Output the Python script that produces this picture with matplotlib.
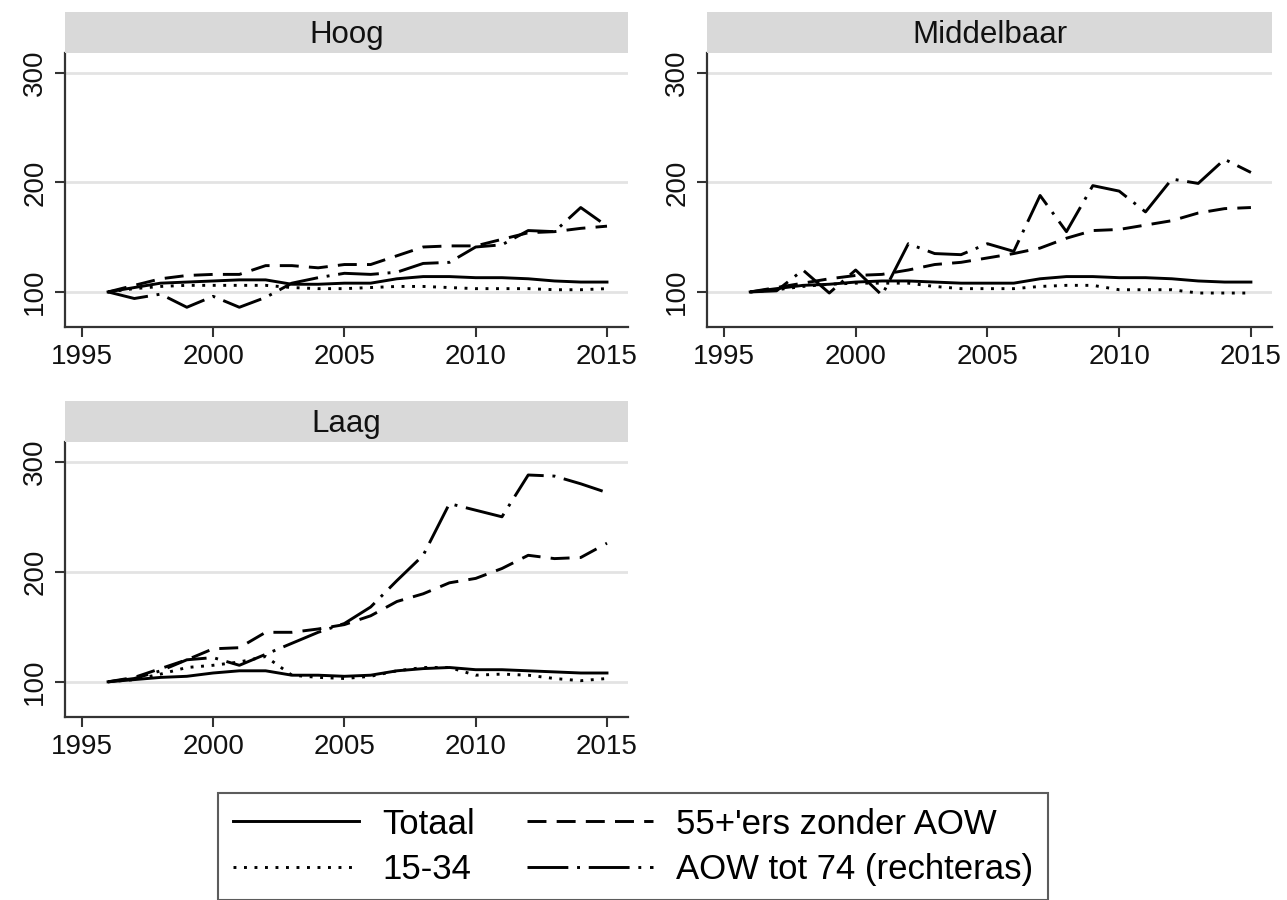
import matplotlib
matplotlib.use("Agg")
import matplotlib.pyplot as plt
from matplotlib.lines import Line2D

plt.rcParams['font.family'] = ['Liberation Sans', 'DejaVu Sans']

years = list(range(1996, 2016))

# Hoog
hoog_totaal = [100, 104, 108, 109, 110, 111, 111, 107, 107, 108, 108, 112, 114, 114, 113, 113, 112, 110, 109, 109]
hoog_1534 = [100, 103, 105, 106, 106, 106, 106, 104, 103, 103, 104, 105, 105, 104, 103, 103, 103, 102, 102, 103]
hoog_55 = [100, 106, 112, 115, 116, 116, 124, 124, 122, 125, 125, 133, 141, 142, 142, 148, 154, 155, 158, 160]
hoog_aow = [100, 94, 98, 86, 96, 86, 95, 108, 113, 117, 116, 118, 126, 127, 141, 143, 156, 155, 177, 160]

# Middelbaar
mid_totaal = [100, 103, 106, 107, 109, 110, 110, 109, 108, 108, 108, 112, 114, 114, 113, 113, 112, 110, 109, 109]
mid_1534 = [100, 102, 105, 107, 108, 108, 108, 105, 103, 103, 103, 105, 106, 106, 102, 102, 102, 99, 99, 99]
mid_55 = [100, 104, 108, 112, 115, 116, 120, 125, 127, 131, 135, 140, 149, 156, 157, 161, 165, 172, 176, 177]
mid_aow = [100, 101, 120, 99, 120, 97, 144, 135, 134, 144, 137, 188, 155, 197, 192, 173, 203, 199, 221, 209]

# Laag
laag_totaal = [100, 102, 104, 105, 108, 110, 110, 106, 106, 105, 106, 110, 112, 113, 111, 111, 110, 109, 108, 108]
laag_1534 = [100, 102, 107, 113, 115, 118, 123, 106, 104, 103, 105, 110, 113, 113, 106, 107, 106, 103, 101, 103]
laag_55 = [100, 104, 112, 120, 130, 131, 145, 145, 148, 152, 160, 173, 180, 190, 194, 203, 215, 212, 213, 226]
laag_aow = [100, 103, 110, 120, 122, 115, 125, 135, 145, 153, 168, 192, 215, 262, 256, 250, 288, 287, 280, 272]

series_labels = ["Totaal", "15-34", "55+'ers zonder AOW", "AOW tot 74 (rechteras)"]
styles = ['-', (0, (1, 2.6)), (0, (6.5, 3.5)), (0, (14, 3, 1, 3))]

panels = [
    ("Hoog", [hoog_totaal, hoog_1534, hoog_55, hoog_aow], (65, 628, 53, 327)),
    ("Middelbaar", [mid_totaal, mid_1534, mid_55, mid_aow], (707, 1272, 53, 327)),
    ("Laag", [laag_totaal, laag_1534, laag_55, laag_aow], (65, 628, 442, 717)),
]

W, H = 1287, 900
fig = plt.figure(figsize=(W / 100, H / 100), dpi=100)

for title, data, (l, r, t, b) in panels:
    ax = fig.add_axes([l / W, 1 - b / H, (r - l) / W, (b - t) / H])
    for vals, ls in zip(data, styles):
        ax.plot(years, vals, color='black', lw=2.1, linestyle=ls, dash_capstyle='butt')
    ax.set_xlim(1994.36, 2015.8)
    ax.set_ylim(68, 318)
    ax.set_xticks([1995, 2000, 2005, 2010, 2015])
    ax.set_yticks([100, 200, 300])
    ax.set_yticklabels(['100', '200', '300'], rotation=90, va='center')
    ax.yaxis.grid(True, color='#e3e3e3', lw=2)
    ax.set_axisbelow(True)
    for s in ['top', 'right']:
        ax.spines[s].set_visible(False)
    for s in ['left', 'bottom']:
        ax.spines[s].set_color('#333333')
        ax.spines[s].set_linewidth(1.6)
    ax.tick_params(direction='out', length=7, width=1.5, color='#333333',
                   labelsize=20, labelcolor='#111111', pad=5)

    # strip with panel title
    sx = fig.add_axes([l / W, 1 - t / H, (r - l) / W, 41 / H])
    sx.set_facecolor('#d9d9d9')
    sx.set_xticks([])
    sx.set_yticks([])
    for s in sx.spines.values():
        s.set_visible(False)
    sx.text(0.5, 0.45, title, ha='center', va='center', fontsize=22.5, color='#111111')

handles = [Line2D([], [], color='black', lw=2.1, linestyle=ls, dash_capstyle='butt') for ls in styles]
leg = fig.legend(handles, series_labels, loc='upper left', bbox_to_anchor=(218 / W, 1 - 793 / H),
                 ncol=2, fontsize=25, frameon=True, fancybox=False, edgecolor='#333333',
                 handlelength=3.65, handletextpad=0.65, columnspacing=1.5,
                 borderpad=0.42, labelspacing=0.35, borderaxespad=0)
leg.get_frame().set_linewidth(1.5)

fig.savefig('out.png', dpi=100)
